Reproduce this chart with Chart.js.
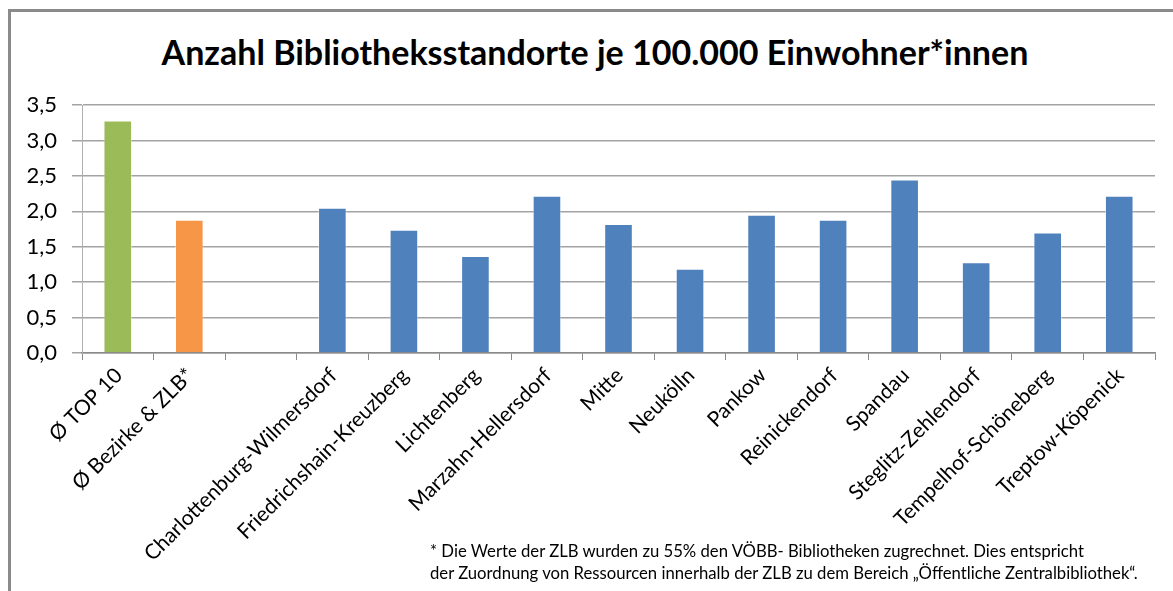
<!DOCTYPE html>
<html lang="de">
<head>
  <meta charset="UTF-8" />
  <title>Anzahl Bibliotheksstandorte je 100.000 Einwohner*innen</title>
  <script src="https://cdn.jsdelivr.net/npm/chart.js"></script>
  <style>
    html, body {
      margin: 0;
      padding: 0;
      background: #fff;
      width: 1173px;
      height: 591px;
      overflow: hidden;
      font-family: Lato, "Open Sans", sans-serif;
    }
    #frame {
      position: absolute;
      left: 8px;
      top: 9px;
      width: 1300px;
      height: 700px;
      border-top: 3px solid #8a8a8a;
      border-left: 3px solid #8a8a8a;
    }
    #wrap {
      position: absolute;
      left: 0;
      top: 0;
      width: 1173px;
      height: 591px;
    }
    #title {
      position: absolute;
      left: 0;
      top: 31px;
      width: 1190px;
      text-align: center;
      font-size: 34px;
      font-weight: bold;
      line-height: 41px;
      color: #000;
      white-space: nowrap;
    }
    #note {
      position: absolute;
      left: 430px;
      top: 540px;
      font-size: 16.7px;
      line-height: 22px;
      color: #000;
      white-space: nowrap;
    }
  </style>
</head>
<body>
  <div id="frame"></div>
  <div id="title">Anzahl Bibliotheksstandorte je 100.000 Einwohner*innen</div>
  <div id="wrap"><canvas id="chart" width="1173" height="591"></canvas></div>
  <div id="note">
    * Die Werte der ZLB wurden zu 55% den VÖBB- Bibliotheken zugrechnet. Dies entspricht<br>
    der Zuordnung von Ressourcen innerhalb der ZLB zu dem Bereich „Öffentliche Zentralbibliothek“.
  </div>

  <script>
    const categories = [
      "Ø TOP 10",
      "Ø Bezirke & ZLB*",
      "",
      "Charlottenburg-Wilmersdorf",
      "Friedrichshain-Kreuzberg",
      "Lichtenberg",
      "Marzahn-Hellersdorf",
      "Mitte",
      "Neukölln",
      "Pankow",
      "Reinickendorf",
      "Spandau",
      "Steglitz-Zehlendorf",
      "Tempelhof-Schöneberg",
      "Treptow-Köpenick"
    ];
    const standorte = [3.28, 1.88, null, 2.05, 1.74, 1.37, 2.22, 1.82, 1.19, 1.95, 1.88, 2.45, 1.28, 1.70, 2.22];
    const yTicks = [0, 0.5, 1, 1.5, 2, 2.5, 3, 3.5];

    const green = "#9bbb59";
    const orange = "#f79646";
    const blue = "#4f81bd";
    const gridColor = "#a3a3a3";

    const ctx = document.getElementById("chart").getContext("2d");
    new Chart(ctx, {
      type: "bar",
      data: {
        labels: categories,
        datasets: [{
          data: standorte,
          backgroundColor: c => c.dataIndex === 0 ? green : (c.dataIndex === 1 ? orange : blue),
          borderColor: "rgba(255,255,255,0.45)",
          borderWidth: 1,
          barPercentage: 0.4,
          categoryPercentage: 1
        }]
      },
      options: {
        responsive: false,
        animation: false,
        layout: { padding: { left: 0, right: 18, top: 105, bottom: 0 } },
        plugins: {
          legend: { display: false },
          tooltip: { enabled: false },
          title: { display: false }
        },
        scales: {
          x: {
            offset: true,
            grid: {
              display: true,
              offset: true,
              drawOnChartArea: false,
              drawTicks: true,
              tickLength: 7,
              color: "#8a8a8a"
            },
            border: { color: "#8a8a8a", width: 1.5 },
            ticks: {
              autoSkip: false,
              maxRotation: 45,
              minRotation: 45,
              padding: 3,
              labelOffset: 1,
              color: "#000",
              font: { family: "Lato", size: 21 }
            },
            afterFit: s => { s.height = 238; }
          },
          y: {
            min: 0,
            max: 3.5,
            afterBuildTicks: s => { s.ticks = yTicks.map(v => ({ value: v })); },
            grid: {
              color: gridColor,
              lineWidth: 1.5,
              drawTicks: true,
              tickLength: 10
            },
            border: { color: "#b0b0b0", width: 1 },
            ticks: {
              padding: 15,
              color: "#000",
              font: { family: "Lato", size: 22 },
              callback: v => v.toFixed(1).replace(".", ",")
            },
            afterFit: s => { s.width = 82; }
          }
        }
      }
    });
  </script>
</body>
</html>
